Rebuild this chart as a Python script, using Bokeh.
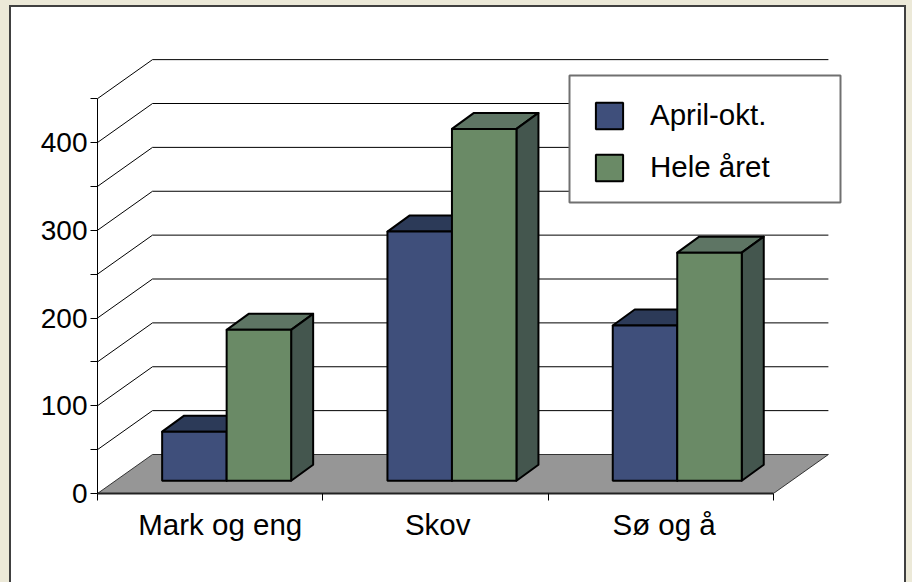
from bokeh.embed import file_html
from bokeh.resources import INLINE
from bokeh.plotting import figure
from bokeh.models import Range1d, FixedTicker, Legend, LegendItem, BoxAnnotation

categories = ["Mark og eng", "Skov", "Sø og å"]
april_okt = [56, 284, 177]
hele_aaret = [172, 401, 260]
series_names = ["April-okt.", "Hele året"]
y_major = [0, 100, 200, 300, 400]
y_minor = [50, 150, 250, 350, 450]

# 3D projection (in axis units)
PX_X = 225.3
PX_Y = 0.8775
WALL_DX = 55 / PX_X
WALL_DY = 39 / PX_Y
BAR_X0 = 16.5 / PX_X
BAR_Y0 = 12.7 / PX_Y
BAR_DX = 22 / PX_X
BAR_DY = 16 / PX_Y
BAR_W = 64.5 / PX_X
BAR_GAP = (1 - 2 * BAR_W) / 2

FRONT = ["#3F4F7B", "#6A8A66"]
TOP = ["#2C3A58", "#5E7564"]
SIDE = ["#2C3A58", "#44564E"]

FRAME_W = 770
FRAME_H = 474
FIG_W = 897
FIG_H = 577
p = figure(
    width=FIG_W, height=FIG_H, margin=(5, 0, 0, 9),
    x_range=Range1d(0, FRAME_W / PX_X), y_range=Range1d(0, FRAME_H / PX_Y),
    output_backend="svg", toolbar_location=None,
    min_border_left=86, min_border_right=FIG_W - 86 - FRAME_W,
    min_border_top=12, min_border_bottom=FIG_H - 12 - FRAME_H,
    outline_line_color=None, background_fill_alpha=0, border_fill_color="white",
)
p.styles = {"border-left": "2px solid #404040", "border-top": "2px solid #404040",
            "border-right": "2px solid #404040", "background": "white"}
p.xgrid.visible = False
p.ygrid.visible = False

# axes
p.yaxis.ticker = FixedTicker(ticks=y_major, minor_ticks=y_minor)
p.yaxis.bounds = (0, 450)
p.yaxis.major_tick_in = 0
p.yaxis.major_tick_out = 7
p.yaxis.minor_tick_in = 0
p.yaxis.minor_tick_out = 7
p.yaxis.axis_line_color = "black"
p.yaxis.major_label_standoff = 3
p.yaxis.major_label_text_font = "Liberation Sans"
p.yaxis.major_label_text_font_size = "28px"
p.yaxis.major_label_text_color = "black"

label_pos = [0.545, 1.51, 2.515]
p.xaxis.ticker = FixedTicker(ticks=label_pos, minor_ticks=[0, 1, 2, 3])
p.xaxis.major_label_overrides = dict(zip(label_pos, categories))
p.xaxis.bounds = (0, 3)
p.xaxis.major_tick_in = 0
p.xaxis.major_tick_out = 0
p.xaxis.minor_tick_in = 0
p.xaxis.minor_tick_out = 7
p.xaxis.axis_line_color = "#222222"
p.xaxis.axis_line_width = 2
p.xaxis.major_label_standoff = 7
p.xaxis.major_label_text_font = "Liberation Sans"
p.xaxis.major_label_text_font_size = "29.5px"
p.xaxis.major_label_text_color = "black"

# floor
p.patch([0, WALL_DX, 3 + WALL_DX, 3], [0, WALL_DY, WALL_DY, 0],
        fill_color="#969696", line_color="#333333", line_width=1)

# wall grid lines
for v in sorted(y_major + y_minor)[1:]:
    p.line([0, WALL_DX, 3 + WALL_DX], [v, v + WALL_DY, v + WALL_DY], line_color="black", line_width=1)

# bars
renderers = []
for c in range(len(categories)):
    for s, vals in enumerate([april_okt, hele_aaret]):
        x0 = c + BAR_X0 + BAR_GAP + s * BAR_W
        x1 = x0 + BAR_W
        y0 = BAR_Y0
        y1 = BAR_Y0 + vals[c]
        p.patch([x0, x0 + BAR_DX, x1 + BAR_DX, x1], [y1, y1 + BAR_DY, y1 + BAR_DY, y1],
                fill_color=TOP[s], line_color="black", line_width=2, line_join="round")
        p.patch([x1, x1 + BAR_DX, x1 + BAR_DX, x1], [y0, y0 + BAR_DY, y1 + BAR_DY, y1],
                fill_color=SIDE[s], line_color="black", line_width=2, line_join="round")
        r = p.quad(left=x0, right=x1, bottom=y0, top=y1,
                   fill_color=FRONT[s], line_color="black", line_width=2)
        if c == 0:
            renderers.append(r)

# legend
box = BoxAnnotation(left=472, right=743, top=418, bottom=291,
                    left_units="screen", right_units="screen", top_units="screen", bottom_units="screen",
                    fill_color="white", fill_alpha=1, line_color="#707070", line_alpha=1, line_width=2,
                    level="annotation")
p.add_layout(box)
legend = Legend(
    items=[LegendItem(label=n, renderers=[r]) for n, r in zip(series_names, renderers)],
    location=(495, 309), orientation="vertical",
    background_fill_alpha=0, border_line_color=None,
    glyph_width=34, glyph_height=33, label_standoff=24, spacing=18,
    label_text_font="Liberation Sans", label_text_font_size="29.5px", label_text_color="black",
    padding=0, margin=0,
)
p.add_layout(legend, "center")

html = file_html(p, INLINE).replace("<body>", '<body style="margin:0;overflow:hidden;background:#ECE9D8">')
open("out.html", "w").write(html)
